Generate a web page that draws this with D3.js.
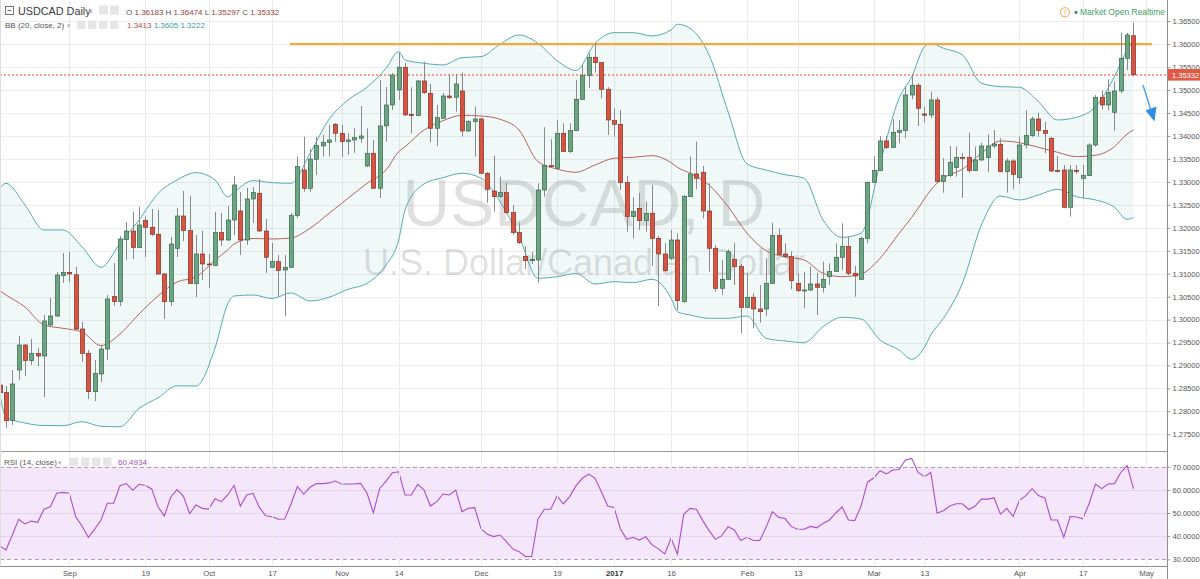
<!DOCTYPE html>
<html><head><meta charset="utf-8">
<script src="https://cdn.jsdelivr.net/npm/d3@7"></script>
<style>
html,body{margin:0;padding:0;background:#fff;}
svg{display:block;font-family:"Liberation Sans",Arial,sans-serif;}
</style></head><body>
<svg id="c" width="1200" height="579"></svg>
<script>
// ---- DATA (candle index -1 .. 178, daily USDCAD, Aug 17 2016 .. Apr 2017) ----
const firstIndex = -1;
const opens = [
1.28574,1.28410,1.27800,1.28901,1.29446,1.29104,1.29260,1.29206,1.29881,1.30077,
1.30956,1.31025,1.30975,1.29794,1.29265,1.28428,1.28814,1.29358,1.30498,1.30389,
1.31744,1.31929,1.31570,1.32154,1.32010,1.31858,1.30993,1.30389,1.31553,1.32256,
1.31936,1.30786,1.31428,1.31211,1.31178,1.31893,1.31733,1.32169,1.32365,1.31733,
1.32627,1.32751,1.31929,1.31139,1.31261,1.31080,1.31139,1.32263,1.33259,1.32860,
1.33492,1.33782,1.33862,1.34254,1.34058,1.33875,1.33912,1.33950,1.33346,1.33623,
1.32860,1.34218,1.34675,1.35002,1.35498,1.34472,1.34442,1.35198,1.34930,1.34167,
1.34385,1.34871,1.34843,1.34980,1.34108,1.34311,1.34370,1.33187,1.32801,1.32677,
1.32764,1.32328,1.31893,1.31370,1.31283,1.31298,1.32823,1.33352,1.33296,1.34058,
1.33658,1.34115,1.34799,1.35314,1.35715,1.35597,1.35017,1.34333,1.34254,1.32982,
1.32241,1.32424,1.32154,1.32315,1.31770,1.31428,1.31335,1.31733,1.30389,1.32677,
1.33172,1.33209,1.32365,1.31553,1.30681,1.30877,1.31313,1.31152,1.30267,1.30485,
1.30230,1.30230,1.30790,1.31827,1.31428,1.31370,1.30790,1.30638,1.30644,1.30775,
1.30703,1.30934,1.31043,1.31357,1.31588,1.31008,1.30877,1.31770,1.32991,1.33244,
1.33891,1.33753,1.34080,1.34115,1.34893,1.35104,1.34479,1.34457,1.34784,1.33004,
1.33135,1.33309,1.33535,1.33527,1.33244,1.33477,1.33527,1.33782,1.33819,1.33222,
1.33455,1.33091,1.33803,1.34006,1.34370,1.34115,1.33949,1.33248,1.33259,1.32446,
1.33252,1.33078,1.33135,1.33803,1.34843,1.34675,1.34516,1.34980,1.35693,1.36183];
const highs = [
1.28640,1.28552,1.28901,1.29642,1.29467,1.29576,1.29380,1.30099,1.30470,1.31036,
1.31450,1.31472,1.31145,1.29947,1.29336,1.29119,1.29446,1.30535,1.31232,1.31820,
1.32126,1.32350,1.32459,1.32241,1.32409,1.32387,1.31014,1.31799,1.32431,1.32801,
1.32692,1.31842,1.31936,1.31428,1.32344,1.32322,1.32474,1.33128,1.32779,1.32867,
1.32888,1.33063,1.32191,1.31668,1.31407,1.31407,1.32322,1.33549,1.33984,1.33716,
1.33984,1.34021,1.34239,1.34283,1.34239,1.34065,1.34174,1.34653,1.34167,1.33912,
1.35220,1.35067,1.35372,1.35815,1.35590,1.35061,1.35220,1.35619,1.35133,1.34675,
1.34937,1.35344,1.35344,1.35379,1.34348,1.34638,1.34392,1.33215,1.33570,1.33113,
1.32982,1.32496,1.32110,1.31603,1.31472,1.32969,1.34189,1.33928,1.34348,1.34276,
1.34276,1.35220,1.35547,1.35802,1.36020,1.35612,1.35061,1.34603,1.34566,1.33128,
1.32664,1.32764,1.32568,1.32932,1.31820,1.31662,1.31951,1.31879,1.32714,1.33549,
1.33875,1.33346,1.32969,1.31625,1.31298,1.31531,1.31675,1.31211,1.31008,1.30572,
1.30753,1.31335,1.32110,1.31988,1.31662,1.31478,1.31007,1.31043,1.31152,1.31021,
1.31261,1.31226,1.31662,1.32097,1.31806,1.31167,1.31806,1.33004,1.33564,1.34000,
1.34000,1.34367,1.34348,1.35074,1.35329,1.35148,1.34638,1.34965,1.34843,1.33514,
1.33782,1.33767,1.33629,1.34072,1.33767,1.33854,1.34037,1.34130,1.33949,1.33514,
1.33492,1.33984,1.34566,1.34420,1.34507,1.34311,1.33984,1.33564,1.33368,1.33368,
1.33368,1.33368,1.33840,1.34893,1.34987,1.35235,1.35183,1.36251,1.36244,1.36474];
const lows = [
1.28335,1.27637,1.27702,1.28683,1.28770,1.29010,1.28988,1.28312,1.29859,1.30056,
1.30797,1.30818,1.29772,1.29075,1.28269,1.28225,1.28639,1.29119,1.30295,1.30295,
1.31298,1.31319,1.31559,1.31363,1.31821,1.30971,1.30012,1.30295,1.31363,1.31712,
1.30775,1.30492,1.30862,1.30688,1.31167,1.31603,1.31712,1.31842,1.31407,1.31625,
1.32104,1.31908,1.31015,1.31124,1.30513,1.30077,1.31124,1.32213,1.32786,1.32786,
1.33150,1.33549,1.33549,1.33875,1.33542,1.33586,1.33629,1.33854,1.33324,1.32845,
1.32649,1.33875,1.34566,1.34784,1.34435,1.34058,1.34435,1.34915,1.33862,1.33782,
1.34370,1.34806,1.34529,1.33984,1.34087,1.33549,1.33172,1.32540,1.32350,1.32649,
1.32300,1.31842,1.31646,1.31102,1.31211,1.30797,1.32677,1.33302,1.33259,1.33651,
1.33629,1.34108,1.34784,1.35046,1.35379,1.34821,1.34021,1.33984,1.32823,1.31914,
1.31770,1.31951,1.31914,1.31167,1.30295,1.31036,1.31298,1.30208,1.30367,1.32670,
1.32838,1.32206,1.31043,1.30607,1.30535,1.30862,1.30753,1.29700,1.30252,1.29809,
1.29932,1.30077,1.30775,1.31385,1.31341,1.30659,1.30601,1.30245,1.30622,1.30099,
1.30585,1.30753,1.31036,1.31080,1.30971,1.30498,1.30862,1.31662,1.32975,1.33237,
1.33716,1.33738,1.33841,1.33949,1.34799,1.34218,1.34289,1.34385,1.32997,1.32764,
1.33106,1.33113,1.32649,1.33200,1.33237,1.33455,1.33209,1.33738,1.33215,1.32764,
1.32838,1.32954,1.33732,1.33978,1.33984,1.33623,1.33215,1.33215,1.32424,1.32241,
1.33172,1.32642,1.33128,1.33767,1.34581,1.34551,1.34115,1.34930,1.35438,1.35297];
const closes = [
1.28406,1.27796,1.28596,1.29446,1.29104,1.29265,1.29206,1.29968,1.30077,1.30971,
1.31030,1.30993,1.29794,1.29265,1.28428,1.28825,1.29358,1.30448,1.30389,1.31755,
1.31929,1.31570,1.32060,1.32010,1.31858,1.30993,1.30389,1.31646,1.32256,1.31936,
1.30786,1.31428,1.31211,1.31189,1.31893,1.31733,1.32169,1.32932,1.31733,1.32627,
1.32764,1.31929,1.31357,1.31261,1.31069,1.31139,1.32263,1.33331,1.32860,1.33498,
1.33788,1.33862,1.33912,1.34058,1.33875,1.33912,1.33963,1.34000,1.33623,1.32860,
1.34218,1.34675,1.35329,1.35498,1.34457,1.34442,1.35198,1.34943,1.34167,1.34398,
1.34871,1.34834,1.35133,1.34108,1.34311,1.34370,1.33187,1.32838,1.32677,1.32764,
1.32328,1.31893,1.31675,1.31283,1.31313,1.32823,1.33352,1.33331,1.34058,1.33658,
1.34115,1.34799,1.35314,1.35715,1.35597,1.35017,1.34348,1.34254,1.32982,1.32241,
1.32350,1.32154,1.32315,1.31770,1.31428,1.31065,1.31733,1.30411,1.32677,1.33172,
1.33078,1.32365,1.31553,1.30681,1.30877,1.31478,1.31152,1.30267,1.30485,1.30230,
1.30171,1.30790,1.31827,1.31422,1.31370,1.30847,1.30629,1.30644,1.30775,1.30703,
1.30877,1.31043,1.31357,1.31588,1.31008,1.30949,1.31770,1.32991,1.33244,1.33891,
1.33745,1.34080,1.34115,1.34893,1.35104,1.34603,1.34451,1.34784,1.33004,1.33135,
1.33427,1.33527,1.33520,1.33244,1.33477,1.33782,1.33782,1.33825,1.33222,1.33455,
1.33165,1.33803,1.34006,1.34370,1.34115,1.34058,1.33237,1.33237,1.32446,1.33259,
1.33237,1.33135,1.33803,1.34843,1.34675,1.34943,1.34980,1.35693,1.36200,1.35332];

// Bollinger Bands (20, close, 2) at these candle indices
const bbIndex = [-1,0,3,6,9,12,15,18,21,24,27,30,33,35,36,39,42,45,48,51,54,57,60,62,63,66,69,72,75,78,
81,84,87,90,93,96,99,102,105,106,108,111,114,117,120,123,126,129,132,135,138,141,143,145,146,148,151,154,157,160,
163,166,169,172,175,177,178];
const bbUpper = [1.32860,1.32969,1.32496,1.31951,1.31951,1.31587,1.31139,1.31661,1.32169,1.32747,1.33041,1.33200,1.33041,1.32677,1.32779,1.33026,1.32982,1.32969,1.33623,1.34363,1.34784,1.35061,1.35475,1.35836,1.35656,1.35584,1.35547,1.35706,1.35728,1.35998,
1.36200,1.36019,1.35640,1.35427,1.36019,1.36250,1.36250,1.36179,1.36309,1.36434,1.36346,1.35765,1.34529,1.33389,1.33259,1.33156,1.33078,1.32169,1.31792,1.31879,1.33405,1.34821,1.35292,1.35945,1.36019,1.35911,1.35765,1.35148,1.35074,1.35061,
1.34747,1.34348,1.34407,1.34638,1.35292,1.35873,1.36050];
const bbMiddle = [1.30629,1.30535,1.30273,1.29881,1.29809,1.29729,1.29435,1.29685,1.30121,1.30513,1.30818,1.30927,1.31298,1.31515,1.31646,1.31766,1.31755,1.31777,1.31988,1.32315,1.32642,1.32969,1.33259,1.33657,1.33766,1.34130,1.34333,1.34451,1.34435,1.34363,
1.34130,1.33440,1.33280,1.33209,1.33368,1.33514,1.33535,1.33570,1.33418,1.33317,1.33187,1.32932,1.32459,1.31879,1.31500,1.31370,1.31298,1.31008,1.30934,1.30993,1.31335,1.31879,1.32228,1.32627,1.32823,1.33084,1.33274,1.33623,1.33891,1.33854,
1.33753,1.33644,1.33549,1.33579,1.33766,1.34043,1.34130];
const bbLower = [1.28393,1.27877,1.27746,1.27691,1.27687,1.27774,1.27674,1.27665,1.28062,1.28295,1.28556,1.28552,1.29380,1.30339,1.30513,1.30535,1.30459,1.30579,1.30404,1.30485,1.30659,1.30790,1.31189,1.31733,1.32387,1.32954,1.33091,1.33187,1.33078,1.32568,
1.31805,1.30899,1.30934,1.31003,1.30775,1.30825,1.30803,1.30877,1.30463,1.30171,1.30099,1.30027,1.30027,1.30077,1.29591,1.29533,1.29496,1.29844,1.30049,1.30012,1.29554,1.29336,1.29134,1.29395,1.29663,1.30027,1.30790,1.32060,1.32692,1.32605,
1.32714,1.32838,1.32677,1.32605,1.32446,1.32184,1.32220];

// RSI (14, close), candle index -1 .. 178
const rsi = [
35.8,34.0,40.5,47.3,45.3,46.5,46.0,51.6,52.7,58.5,
58.9,58.5,48.4,44.4,39.5,43.0,47.0,54.2,54.2,61.8,
62.7,59.8,62.4,61.9,60.4,52.7,48.7,56.8,60.1,57.3,
49.7,53.5,52.0,51.7,56.2,54.9,57.8,61.9,53.0,57.8,
58.5,52.4,48.8,48.4,47.3,47.4,53.9,61.4,58.1,61.1,
62.7,62.7,63.0,63.8,62.4,62.5,62.5,62.8,58.5,50.1,
60.6,63.8,67.4,67.8,57.8,57.8,62.4,59.9,53.0,54.9,
58.2,57.8,59.9,50.6,52.0,52.3,43.1,40.8,39.8,40.5,
37.6,34.5,33.3,31.2,31.2,47.4,51.6,51.6,57.3,53.9,
57.1,61.8,65.0,66.8,65.0,59.2,53.0,52.4,43.1,38.6,
39.5,38.3,39.8,36.2,34.5,32.3,39.1,32.2,49.4,52.0,
51.6,46.7,42.4,38.6,40.2,44.1,42.7,38.1,39.5,38.1,
38.1,43.8,50.6,48.1,47.6,44.1,43.0,43.0,44.2,43.6,
45.5,47.0,50.0,52.6,47.0,46.7,53.0,63.3,65.1,68.3,
66.9,68.6,68.8,72.9,73.6,67.5,65.7,67.5,50.0,51.0,
53.0,54.0,54.0,51.5,53.0,56.0,56.0,56.5,49.5,52.0,
48.5,55.5,57.5,60.5,57.5,56.5,47.0,47.0,39.5,48.5,
48.3,47.5,54.0,62.5,60.5,62.5,62.7,67.5,70.5,60.4934];

const timeTickIndex = [10,22,32,42,53,62,75,87,96,105,117,125,137,145,160,170,180];
const timeTickLabel = ["Sep","19","Oct","17","Nov","14","Dec","19","2017","16","Feb","13","Mar","13","Apr","17","May"];
const priceTicks = d3.range(0,19).map(k => +(1.275 + 0.005*k).toFixed(3));
const rsiTicks = [30,40,50,60,70];
const resistanceLevel = 1.36;
const lastPrice = 1.35332;
const header = {symbol:"USDCAD Daily", o:"1.36183", h:"1.36474", l:"1.35297", c:"1.35332"};
const bbLast = ["1.3413","1.3605","1.3222"];
const rsiLast = "60.4934";

// ---- LAYOUT ----
const AX = 1167, MAIN_B = 451.5, RSI_T = 452, RSI_B = 566.5;
const svg = d3.select('#c');
const x = d3.scaleLinear().domain([0,178]).range([6.0,1133.45]);
const y = d3.scaleLinear().domain([1.275,1.365]).range([434.3,21.2]);
const yr = d3.scaleLinear().domain([30,70]).range([559.3,466.7]);
const crisp = v => Math.round(v) + 0.5;

const defs = svg.append('defs');
defs.append('clipPath').attr('id','cm').append('rect').attr('x',0).attr('y',0).attr('width',AX).attr('height',MAIN_B);
defs.append('clipPath').attr('id','cr').append('rect').attr('x',0).attr('y',RSI_T).attr('width',AX).attr('height',RSI_B-RSI_T);

// RSI background band
const gR = svg.append('g').attr('clip-path','url(#cr)');
gR.append('rect').attr('x',0).attr('width',AX).attr('y',yr(70)).attr('height',yr(30)-yr(70)).attr('fill','#f4e7fc');

// grids
const gGrid = svg.append('g');
priceTicks.forEach(t => gGrid.append('line').attr('x1',0).attr('x2',AX)
  .attr('y1',crisp(y(t))).attr('y2',crisp(y(t))).attr('stroke','#ededee').attr('stroke-width',1));
timeTickIndex.forEach(i => gGrid.append('line').attr('x1',crisp(x(i))).attr('x2',crisp(x(i)))
  .attr('y1',0).attr('y2',RSI_B).attr('stroke','#ececee').attr('stroke-width',1));
[40,50,60].forEach(t => gR.append('line').attr('x1',0).attr('x2',AX)
  .attr('y1',crisp(yr(t))).attr('y2',crisp(yr(t))).attr('stroke','#e3d3ea'));
[30,70].forEach(t => gR.append('line').attr('x1',0).attr('x2',AX)
  .attr('y1',crisp(yr(t))).attr('y2',crisp(yr(t))).attr('stroke','#a9a3ad').attr('stroke-dasharray','4,3'));

// main pane
const gM = svg.append('g').attr('clip-path','url(#cm)');
gM.append('text').attr('x',584).attr('y',226).attr('text-anchor','middle')
  .attr('font-size',66).attr('fill','rgba(0,0,0,0.12)').text('USDCAD, D');
gM.append('text').attr('x',584).attr('y',275).attr('text-anchor','middle')
  .attr('font-size',36).attr('fill','rgba(0,0,0,0.12)').text('U.S. Dollar/Canadian Dollar');

const bb = bbIndex.map((i,k) => ({i, u:bbUpper[k], m:bbMiddle[k], l:bbLower[k]}));
gM.append('path').datum(bb).attr('fill','rgba(40,150,150,0.065)')
  .attr('d', d3.area().x(d=>x(d.i)).y0(d=>y(d.l)).y1(d=>y(d.u)).curve(d3.curveMonotoneX));
gM.append('path').datum(bb).attr('fill','none').attr('stroke','#55abab').attr('stroke-width',1)
  .attr('d', d3.line().x(d=>x(d.i)).y(d=>y(d.u)).curve(d3.curveMonotoneX));
gM.append('path').datum(bb).attr('fill','none').attr('stroke','#55abab').attr('stroke-width',1)
  .attr('d', d3.line().x(d=>x(d.i)).y(d=>y(d.l)).curve(d3.curveMonotoneX));
gM.append('path').datum(bb).attr('fill','none').attr('stroke','#b3645f').attr('stroke-width',1)
  .attr('d', d3.line().x(d=>x(d.i)).y(d=>y(d.m)).curve(d3.curveMonotoneX));

// resistance line and last price line
gM.append('line').attr('x1',290).attr('x2',1152).attr('y1',y(resistanceLevel)).attr('y2',y(resistanceLevel))
  .attr('stroke','#f7a83a').attr('stroke-width',2.2);
gM.append('line').attr('x1',0).attr('x2',AX).attr('y1',Math.round(y(lastPrice))).attr('y2',Math.round(y(lastPrice)))
  .attr('stroke','#f0442c').attr('stroke-width',1.2).attr('stroke-dasharray','2,2');

// candles
const candles = opens.map((o,k) => ({i:k+firstIndex, o, h:highs[k], l:lows[k], c:closes[k]}));
const gC = gM.append('g');
candles.forEach(d => {
  const cx = crisp(x(d.i));
  const up = d.c >= d.o;
  gC.append('line').attr('x1',cx).attr('x2',cx)
    .attr('y1',y(Math.max(d.h,d.o,d.c))).attr('y2',y(Math.min(d.l,d.o,d.c)))
    .attr('stroke','#8a8a8c').attr('stroke-width',1);
  const top = y(Math.max(d.o,d.c)), bot = y(Math.min(d.o,d.c));
  gC.append('rect').attr('x',cx-2.2).attr('width',4.4)
    .attr('y',top).attr('height',Math.max(1,bot-top))
    .attr('fill', up ? '#6ba583' : '#d75442')
    .attr('stroke', up ? '#2e5e40' : '#7a2a1e').attr('stroke-width',0.6);
});

// blue arrow
gM.append('path').attr('d','M1143,85 L1150.5,109').attr('stroke','#4aa3ee').attr('stroke-width',1.4).attr('fill','none');
gM.append('path').attr('d','M1145.5,110.5 L1156.5,106.5 L1154.5,121.5 Z').attr('fill','#2f8fe6');

// RSI line
gR.append('path').datum(rsi.map((v,k)=>({i:k+firstIndex, v})))
  .attr('fill','none').attr('stroke','#ad4ccb').attr('stroke-width',1.1)
  .attr('d', d3.line().x(d=>x(d.i)).y(d=>yr(d.v)));

// pane borders
svg.append('line').attr('x1',0).attr('x2',AX).attr('y1',MAIN_B).attr('y2',MAIN_B).attr('stroke','#9b9b9b').attr('stroke-width',1.2);
svg.append('line').attr('x1',0).attr('x2',AX+0.5).attr('y1',RSI_B).attr('y2',RSI_B).attr('stroke','#8e8e8e');
svg.append('line').attr('x1',AX+0.5).attr('x2',AX+0.5).attr('y1',0).attr('y2',579).attr('stroke','#8e8e8e');
svg.append('line').attr('x1',0.5).attr('x2',0.5).attr('y1',0).attr('y2',RSI_B).attr('stroke','#dedede');

// axes
function styleAxis(g){
  g.select('.domain').remove();
  g.selectAll('.tick line').attr('stroke','#9a9a9a');
  g.selectAll('.tick text').attr('fill','#555').attr('font-size','7.5px').attr('font-family','"Liberation Sans",Arial,sans-serif');
}
svg.append('g').attr('transform',`translate(${AX+0.5},0)`)
  .call(d3.axisRight(y).tickValues(priceTicks).tickFormat(d=>d.toFixed(5)).tickSize(3).tickPadding(2))
  .call(styleAxis);
svg.append('g').attr('transform',`translate(${AX+0.5},0)`)
  .call(d3.axisRight(yr).tickValues(rsiTicks).tickFormat(d=>d.toFixed(4)).tickSize(3).tickPadding(2))
  .call(styleAxis);
const tx = svg.append('g').attr('transform',`translate(0,${RSI_B})`)
  .call(d3.axisBottom(x).tickValues(timeTickIndex).tickFormat((d,k)=>timeTickLabel[k]).tickSize(0).tickPadding(4))
  .call(styleAxis);
tx.selectAll('.tick text').attr('font-size','7.8px').attr('font-weight',(d,k)=>timeTickLabel[k]==='2017'?'bold':'normal')
  .attr('fill',(d,k)=>timeTickLabel[k]==='2017'?'#333':'#555');

// last price label
const ly = y(lastPrice);
svg.append('rect').attr('x',AX+1).attr('y',ly-5.8).attr('width',1200-AX-1).attr('height',11.6).attr('fill','#e05a45');
svg.append('text').attr('x',AX+5).attr('y',ly+2.7).attr('font-size','7.5px').attr('fill','#fff').text(lastPrice.toFixed(5));

// header
const hd = svg.append('g');
hd.append('rect').attr('x',5.5).attr('y',6.5).attr('width',8).attr('height',8).attr('fill','none').attr('stroke','#666').attr('stroke-width',0.9);
hd.append('line').attr('x1',7.5).attr('x2',11.5).attr('y1',10.5).attr('y2',10.5).attr('stroke','#666');
hd.append('text').attr('x',18).attr('y',15).attr('font-size','10.8px').attr('fill','#3a3a3a').text(header.symbol);
hd.append('text').attr('x',89).attr('y',13.5).attr('font-size','7px').attr('fill','#b5b5b5').text('▾');
[99,110].forEach(px => hd.append('rect').attr('x',px).attr('y',5.5).attr('width',9).attr('height',9).attr('rx',1).attr('fill','#e6e6e6'));
const ohlc = hd.append('text').attr('x',126).attr('y',14.5).attr('font-size','8px');
[['O ',header.o],[' H ',header.h],[' L ',header.l],[' C ',header.c]].forEach(([k,v]) => {
  ohlc.append('tspan').attr('fill','#555').text(k);
  ohlc.append('tspan').attr('fill','#a33b33').text(v);
});
hd.append('text').attr('x',5).attr('y',28).attr('font-size','8px').attr('fill','#555').text('BB (20, close, 2)');
hd.append('text').attr('x',67).attr('y',27.5).attr('font-size','6.5px').attr('fill','#b5b5b5').text('▾');
[77,88,99,110].forEach(px => hd.append('rect').attr('x',px).attr('y',20.5).attr('width',8.5).attr('height',8.5).attr('rx',1).attr('fill','#e6e6e6'));
const bbt = hd.append('text').attr('x',127).attr('y',28).attr('font-size','8px');
bbt.append('tspan').attr('fill','#a8524d').text(bbLast[0]);
bbt.append('tspan').attr('fill','#3a9c9c').text(' ' + bbLast[1]);
bbt.append('tspan').attr('fill','#3a9c9c').text(' ' + bbLast[2]);

// RSI header
hd.append('text').attr('x',4).attr('y',465).attr('font-size','8px').attr('fill','#555').text('RSI (14, close)');
hd.append('text').attr('x',58).attr('y',464.5).attr('font-size','6.5px').attr('fill','#b5b5b5').text('▾');
[70,81,92,103].forEach(px => hd.append('rect').attr('x',px).attr('y',457.5).attr('width',8.5).attr('height',8.5).attr('rx',1).attr('fill','#e6e6e6'));
hd.append('text').attr('x',118).attr('y',465).attr('font-size','8px').attr('fill','#a64ac9').text(rsiLast);

// market status
hd.append('circle').attr('cx',1065).attr('cy',12.3).attr('r',4.6).attr('fill','#fff').attr('stroke','#f39a3c').attr('stroke-width',0.9);
hd.append('text').attr('x',1065).attr('y',15).attr('text-anchor','middle').attr('font-size','7px').attr('fill','#f39a3c').text('!');
hd.append('circle').attr('cx',1076).attr('cy',12.3).attr('r',1.6).attr('fill','#2f9a5c');
hd.append('text').attr('x',1080).attr('y',15.3).attr('font-size','8.5px').attr('fill','#3f9e63').text('Market Open  Realtime');
</script>
</body></html>
